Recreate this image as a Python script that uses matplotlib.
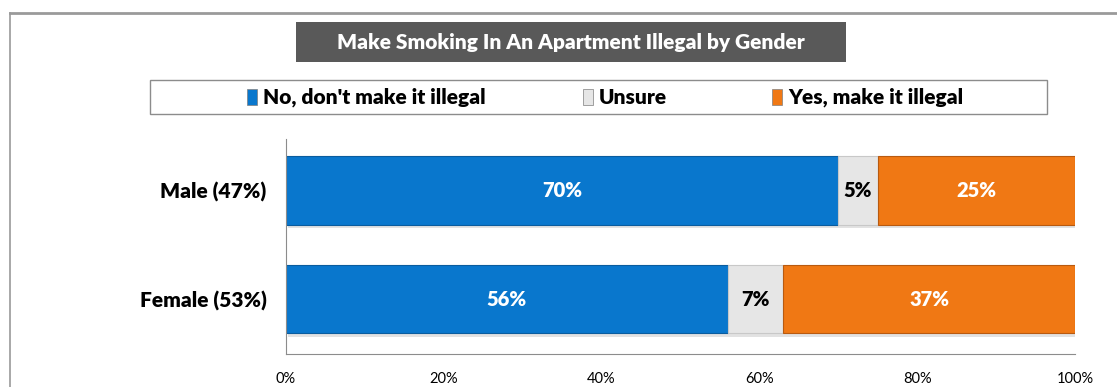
import matplotlib.pyplot as plt
from matplotlib.patches import Rectangle
from matplotlib.lines import Line2D

# Survey results, percent of respondents
groups = ['Female (53%)', 'Male (47%)']
no_vals = [56, 70]
unsure_vals = [7, 5]
yes_vals = [37, 25]
series_names = ["No, don't make it illegal", 'Unsure', 'Yes, make it illegal']
ticks = [0, 20, 40, 60, 80, 100]

blue = '#0977CD'
grey = '#E6E6E6'
orange = '#F07814'

plt.rcParams['font.family'] = ['Lato', 'DejaVu Sans']
BOLD = 'heavy'

fig = plt.figure(figsize=(11.17, 3.87), dpi=100)
W, H = 1117, 387

def fx(px):
    return px / W

def fy(px):
    return 1 - px / H

# outer frame lines (top and left)
fig.add_artist(Line2D([fx(10), 1], [fy(12.5), fy(12.5)], color='#9A9A9A', lw=2))
fig.add_artist(Line2D([fx(10), fx(10)], [fy(12.5), 0], color='#9A9A9A', lw=1.2))

# title box
fig.add_artist(Rectangle((fx(296), fy(62)), fx(846) - fx(296), fy(22) - fy(62),
                         facecolor='#595959', edgecolor='none'))
fig.text(fx(571), fy(42), 'Make Smoking In An Apartment Illegal by Gender',
         color='white', fontsize=15, fontweight=BOLD, ha='center', va='center')

# legend box
fig.add_artist(Rectangle((fx(150), fy(114)), fx(1047) - fx(150), fy(80) - fy(114),
                         facecolor='white', edgecolor='#8C8C8C', lw=1))

ax = fig.add_axes([fx(286), fy(354), fx(1075) - fx(286), fy(139) - fy(354)])

y = [0, 1]
h = 0.636
lefts_unsure = [n for n in no_vals]
lefts_yes = [n + u for n, u in zip(no_vals, unsure_vals)]

# soft drop shadow under each bar
for yi in y:
    ax.barh(yi - 0.03, 100, height=h, left=0.3, color='#D0D0D0', alpha=0.6, zorder=1)

b1 = ax.barh(y, no_vals, height=h, color=blue, edgecolor='#0A5C9E', lw=0.8, zorder=2,
             label=series_names[0])
b2 = ax.barh(y, unsure_vals, height=h, left=lefts_unsure, color=grey, edgecolor='#C8C8C8',
             lw=0.8, zorder=2, label=series_names[1])
b3 = ax.barh(y, yes_vals, height=h, left=lefts_yes, color=orange, edgecolor='#B85A10',
             lw=0.8, zorder=2, label=series_names[2])

for bars, vals, col in [(b1, no_vals, 'white'), (b2, unsure_vals, 'black'),
                        (b3, yes_vals, 'white')]:
    for rect, v in zip(bars, vals):
        ax.text(rect.get_x() + rect.get_width() / 2, rect.get_y() + rect.get_height() / 2,
                f'{v}%', color=col, fontsize=14.5, fontweight=BOLD,
                ha='center', va='center', zorder=3)

ax.set_xlim(0, 100)
ax.set_ylim(-0.507, 1.475)
ax.set_yticks(y)
ax.set_yticklabels(groups, fontsize=15, fontweight=BOLD)
ax.set_xticks(ticks)
ax.set_xticklabels([f'{t}%' for t in ticks], fontsize=10.5)
ax.tick_params(axis='both', length=0)
ax.tick_params(axis='x', pad=13)
ax.tick_params(axis='y', pad=14)
for s in ['top', 'right']:
    ax.spines[s].set_visible(False)
ax.spines['left'].set_color('#8C8C8C')
ax.spines['bottom'].set_color('#8C8C8C')

# legend entries laid out inside the box
leg_items = [(247, series_names[0], blue), (583, series_names[1], grey),
             (772, series_names[2], orange)]
for x0, name, col in leg_items:
    fig.add_artist(Rectangle((fx(x0), fy(105)), fx(10) - fx(0), fy(89) - fy(105),
                             facecolor=col, edgecolor='#7F7F7F', lw=0.5))
    fig.text(fx(x0 + 16), fy(97), name, fontsize=15, fontweight=BOLD,
             ha='left', va='center')

fig.savefig('out.png', dpi=100)
